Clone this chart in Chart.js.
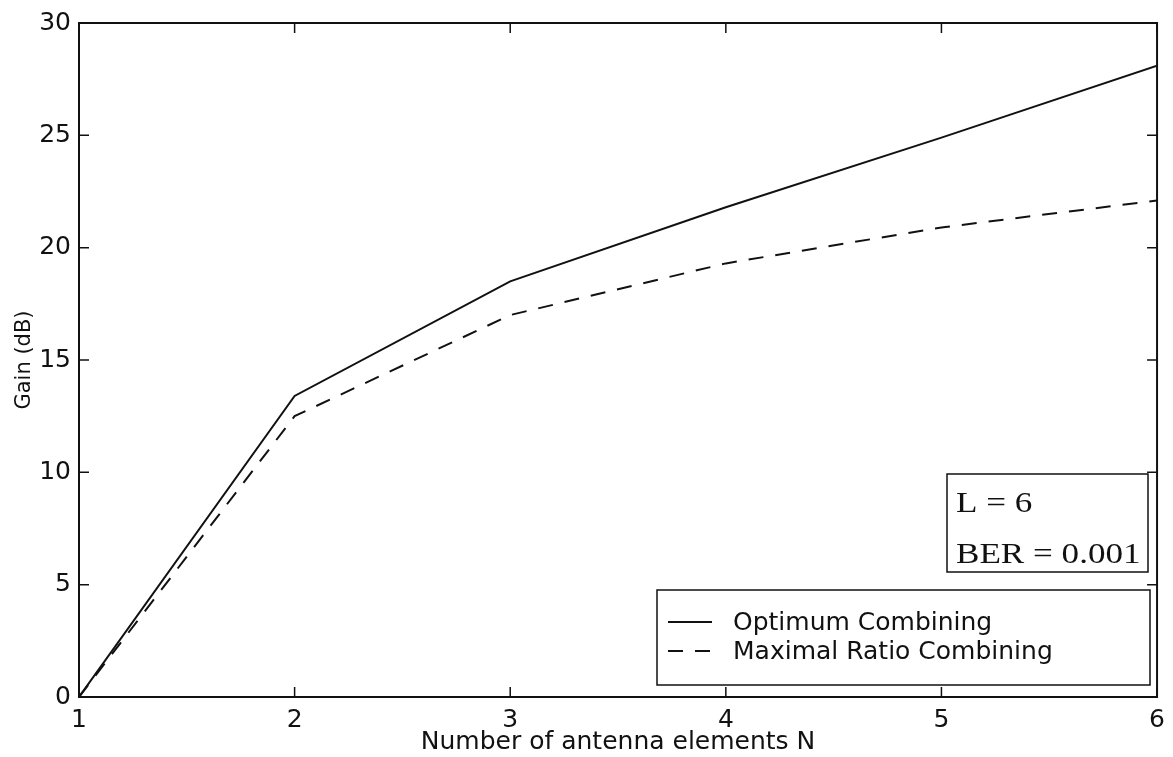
<!DOCTYPE html>
<html>
<head>
<meta charset="utf-8">
<script src="https://cdn.jsdelivr.net/npm/chart.js@4.4.0/dist/chart.umd.min.js"></script>
<style>
  body { margin: 0; background: #fff; }
  canvas { display: block; }
</style>
</head>
<body>
<canvas id="myChart" width="1173" height="757"></canvas>
<script>
// values
var antennaCounts = [1, 2, 3, 4, 5, 6];
var optimumGain = [0, 13.4, 18.5, 21.8, 24.9, 28.1];
var mrcGain = [0, 12.5, 17.0, 19.3, 20.9, 22.1];
var xTicks = [1, 2, 3, 4, 5, 6];
var yTicks = [0, 5, 10, 15, 20, 25, 30];
var seriesNames = ['Optimum Combining', 'Maximal Ratio Combining'];
var noteLines = ['L = 6', 'BER = 0.001'];

var INK = '#111';
var sansFont = "'DejaVu Sans', sans-serif";

function toPoints(xs, ys) {
    return xs.map(function (x, i) { return { x: x, y: ys[i] }; });
}

// matlab style frame with inward ticks
var framePlugin = {
    id: 'frame',
    afterDraw: function (chart) {
        var ctx = chart.ctx;
        var a = chart.chartArea;
        var xs = chart.scales.x, ys = chart.scales.y;
        ctx.save();
        ctx.strokeStyle = INK;
        ctx.lineWidth = 2;
        ctx.strokeRect(a.left, a.top, a.right - a.left, a.bottom - a.top);
        ctx.lineWidth = 1.5;
        ctx.beginPath();
        xTicks.forEach(function (v) {
            var px = xs.getPixelForValue(v);
            ctx.moveTo(px, a.bottom); ctx.lineTo(px, a.bottom - 10);
            ctx.moveTo(px, a.top); ctx.lineTo(px, a.top + 10);
        });
        yTicks.forEach(function (v) {
            var py = ys.getPixelForValue(v);
            ctx.moveTo(a.left, py); ctx.lineTo(a.left + 10, py);
            ctx.moveTo(a.right, py); ctx.lineTo(a.right - 10, py);
        });
        ctx.stroke();
        ctx.restore();
    }
};

// legend box inside the plot, lower right
var boxLegendPlugin = {
    id: 'boxLegend',
    afterDraw: function (chart) {
        var ctx = chart.ctx;
        var left = 657, top = 590, right = 1150, bottom = 685;
        ctx.save();
        ctx.fillStyle = '#fff';
        ctx.fillRect(left, top, right - left, bottom - top);
        ctx.strokeStyle = INK;
        ctx.lineWidth = 1.5;
        ctx.strokeRect(left, top, right - left, bottom - top);
        ctx.font = '25px ' + sansFont;
        ctx.textBaseline = 'middle';
        ctx.fillStyle = INK;
        chart.data.datasets.forEach(function (ds, i) {
            var y = 622 + i * 29;
            ctx.beginPath();
            ctx.lineWidth = 2;
            ctx.setLineDash(ds.borderDash || []);
            ctx.moveTo(668, y);
            ctx.lineTo(712, y);
            ctx.stroke();
            ctx.setLineDash([]);
            ctx.fillText(ds.label, 733, y + 1);
        });
        ctx.restore();
    }
};

// the L / BER note
var notePlugin = {
    id: 'note',
    afterDraw: function (chart) {
        var ctx = chart.ctx;
        var left = 947, top = 474, right = 1148, bottom = 572;
        ctx.save();
        ctx.fillStyle = '#fff';
        ctx.fillRect(left, top, right - left, bottom - top);
        ctx.strokeStyle = INK;
        ctx.lineWidth = 1.5;
        ctx.strokeRect(left, top, right - left, bottom - top);
        ctx.fillStyle = INK;
        ctx.textBaseline = 'middle';
        ctx.font = "30px 'Liberation Serif', serif";
        noteLines.forEach(function (txt, i) {
            ctx.save();
            ctx.translate(956, 504 + i * 51);
            ctx.scale(1.17, 1);
            ctx.fillText(txt, 0, 0);
            ctx.restore();
        });
        ctx.restore();
    }
};

var ctx = document.getElementById('myChart').getContext('2d');
var chart = new Chart(ctx, {
    type: 'line',
    data: {
        datasets: [{
            label: seriesNames[0],
            data: toPoints(antennaCounts, optimumGain),
            borderColor: INK,
            borderWidth: 2,
            pointRadius: 0,
            tension: 0,
            fill: false
        }, {
            label: seriesNames[1],
            data: toPoints(antennaCounts, mrcGain),
            borderColor: INK,
            borderWidth: 2,
            borderDash: [15, 12],
            pointRadius: 0,
            tension: 0,
            fill: false
        }]
    },
    options: {
        responsive: false,
        animation: false,
        devicePixelRatio: 1,
        layout: { padding: { left: 0, right: 11, top: 22, bottom: 0 } },
        plugins: {
            legend: { display: false },
            tooltip: { enabled: false }
        },
        scales: {
            x: {
                type: 'linear',
                min: 1,
                max: 6,
                grid: { display: false, drawTicks: false },
                border: { display: false },
                afterFit: function (s) { s.height = 60; },
                afterBuildTicks: function (s) {
                    s.ticks = xTicks.map(function (v) { return { value: v }; });
                },
                ticks: {
                    color: INK,
                    padding: 8,
                    maxRotation: 0,
                    autoSkip: false,
                    font: { family: sansFont, size: 25 }
                },
                title: {
                    display: true,
                    text: 'Number of antenna elements N',
                    color: INK,
                    padding: 0,
                    font: { family: sansFont, size: 25 }
                }
            },
            y: {
                min: 0,
                max: 30,
                grid: { display: false, drawTicks: false },
                border: { display: false },
                afterFit: function (s) { s.width = 79; },
                afterBuildTicks: function (s) {
                    s.ticks = yTicks.map(function (v) { return { value: v }; });
                },
                ticks: {
                    color: INK,
                    padding: 8,
                    font: { family: sansFont, size: 25 }
                },
                title: {
                    display: true,
                    text: 'Gain (dB)',
                    color: INK,
                    padding: { top: 12, bottom: 0 },
                    font: { family: sansFont, size: 21 }
                }
            }
        }
    },
    plugins: [framePlugin, boxLegendPlugin, notePlugin]
});
</script>
</body>
</html>
